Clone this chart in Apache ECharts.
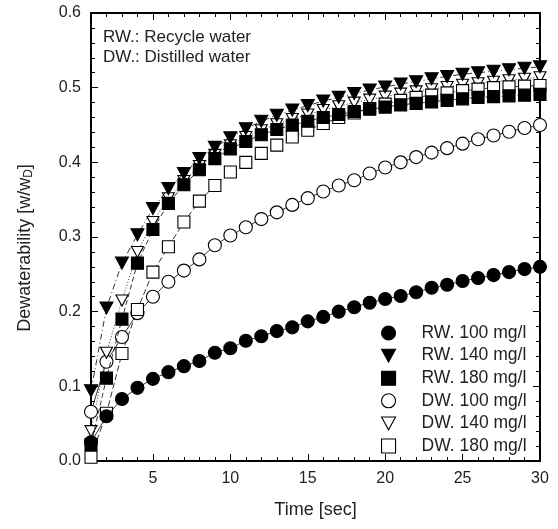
<!DOCTYPE html>
<html>
<head>
<meta charset="utf-8">
<script src="https://cdn.jsdelivr.net/npm/echarts@6/dist/echarts.min.js"></script>
<style>
html,body{margin:0;padding:0;background:#fff;}
#chart{width:558px;height:529px;}
</style>
</head>
<body>
<div id="chart"></div>
<script>
// ---- data ----
const time = [1,2,3,4,5,6,7,8,9,10,11,12,13,14,15,16,17,18,19,20,21,22,23,24,25,26,27,28,29,30];
const rw100 = [0.025,0.06,0.083,0.098,0.110,0.119,0.127,0.134,0.145,0.151,0.161,0.167,0.174,0.179,0.187,0.193,0.200,0.206,0.212,0.217,0.221,0.226,0.232,0.236,0.241,0.245,0.249,0.253,0.257,0.260];
const rw140 = [0.094,0.205,0.265,0.303,0.338,0.365,0.385,0.405,0.420,0.433,0.445,0.455,0.463,0.470,0.476,0.482,0.487,0.492,0.497,0.501,0.505,0.508,0.512,0.515,0.518,0.520,0.522,0.524,0.526,0.528];
const rw180 = [0.022,0.111,0.190,0.265,0.310,0.345,0.370,0.390,0.405,0.418,0.428,0.437,0.444,0.450,0.455,0.460,0.464,0.468,0.471,0.474,0.477,0.479,0.481,0.483,0.485,0.487,0.488,0.489,0.490,0.491];
const dw100 = [0.066,0.133,0.166,0.198,0.220,0.240,0.255,0.270,0.289,0.302,0.313,0.324,0.333,0.343,0.352,0.361,0.369,0.376,0.385,0.393,0.400,0.407,0.413,0.419,0.425,0.431,0.436,0.441,0.446,0.450];
const dw140 = [0.040,0.145,0.215,0.280,0.320,0.352,0.375,0.395,0.410,0.423,0.434,0.443,0.451,0.458,0.464,0.470,0.475,0.480,0.484,0.488,0.492,0.495,0.498,0.501,0.504,0.506,0.508,0.510,0.512,0.514];
const dw180 = [0.005,0.064,0.144,0.203,0.253,0.287,0.320,0.348,0.369,0.387,0.400,0.412,0.423,0.434,0.443,0.452,0.460,0.466,0.472,0.478,0.483,0.487,0.490,0.493,0.496,0.498,0.500,0.501,0.502,0.503];
const seriesNames = ['RW. 100 mg/l','RW. 140 mg/l','RW. 180 mg/l','DW. 100 mg/l','DW. 140 mg/l','DW. 180 mg/l'];
const xMajorTicks = [5,10,15,20,25,30];
const xMinorTicks = [1,2,3,4,5,6,7,8,9,10,11,12,13,14,15,16,17,18,19,20,21,22,23,24,25,26,27,28,29,30];
const yTickLabels = ['0.0','0.1','0.2','0.3','0.4','0.5','0.6'];
const notes = ['RW.: Recycle water','DW.: Distilled water'];

// ---- styles ----
const FONT = 'Liberation Sans, Arial, sans-serif';
const TXT = '#222';
const downTri = 'path://M0,0L12,0L6,11Z';
const seriesStyles = [
  {symbol:'circle', size:13, fill:'#000', dash:'solid'},
  {symbol:downTri, size:[13,12], fill:'#000', dash:[6,3,1,3]},
  {symbol:'rect', size:12, fill:'#000', dash:[5,3]},
  {symbol:'circle', size:13, fill:'#fff', dash:'solid'},
  {symbol:downTri, size:[12,11], fill:'#fff', dash:[1,2]},
  {symbol:'rect', size:12, fill:'#fff', dash:[6,3]}
];
const allData = [rw100, rw140, rw180, dw100, dw140, dw180];

const series = allData.map((vals, i) => {
  const st = seriesStyles[i];
  return {
    name: seriesNames[i],
    type: 'line',
    xAxisIndex: 0, yAxisIndex: 0,
    data: time.map((t, k) => [t, vals[k]]),
    symbol: st.symbol,
    symbolSize: st.size,
    showSymbol: true,
    showAllSymbol: true,
    itemStyle: {color: st.fill, borderColor: '#000', borderWidth: 1.1},
    lineStyle: {color: '#000', width: 0.8, type: st.dash},
    emphasis: {disabled: true},
    animation: false,
    z: 3 + (i < 3 ? 1 : 0)
  };
});

const legendData = seriesNames.map((n, i) => ({
  name: n,
  icon: seriesStyles[i].symbol,
  itemStyle: {color: seriesStyles[i].fill, borderColor: '#000', borderWidth: 1.1}
}));

const axisLineStyle = {color: '#000', width: 2};
const chart = echarts.init(document.getElementById('chart'), null, {renderer: 'canvas'});
chart.setOption({
  backgroundColor: '#fff',
  animation: false,
  grid: {left: 91, right: 18, top: 13, bottom: 68, containLabel: false},
  xAxis: [
    {type: 'value', min: 1, max: 30, position: 'bottom',
     axisLine: {show: true, onZero: false, lineStyle: axisLineStyle},
     axisTick: {show: true, inside: true, length: 7, customValues: xMajorTicks, lineStyle: {color: '#000', width: 1}},
     axisLabel: {show: true, customValues: xMajorTicks, fontSize: 16, color: TXT, fontFamily: FONT, margin: 10},
     splitLine: {show: false},
     name: 'Time [sec]', nameLocation: 'middle', nameGap: 40,
     nameTextStyle: {fontSize: 18, color: TXT, fontFamily: FONT}},
    {type: 'value', min: 1, max: 30, position: 'bottom',
     axisLine: {show: false, onZero: false},
     axisTick: {show: true, inside: true, length: 4, customValues: xMinorTicks, lineStyle: {color: '#000', width: 1}},
     axisLabel: {show: false}, splitLine: {show: false}},
    {type: 'value', min: 1, max: 30, position: 'top',
     axisLine: {show: true, onZero: false, lineStyle: axisLineStyle},
     axisTick: {show: true, inside: true, length: 7, customValues: xMajorTicks, lineStyle: {color: '#000', width: 1}},
     axisLabel: {show: false}, splitLine: {show: false}},
    {type: 'value', min: 1, max: 30, position: 'top',
     axisLine: {show: false, onZero: false},
     axisTick: {show: true, inside: true, length: 4, customValues: xMinorTicks, lineStyle: {color: '#000', width: 1}},
     axisLabel: {show: false}, splitLine: {show: false}}
  ],
  yAxis: [
    {type: 'value', min: 0, max: 0.6, interval: 0.1, position: 'left',
     axisLine: {show: true, onZero: false, lineStyle: axisLineStyle},
     axisTick: {show: true, inside: true, length: 7, lineStyle: {color: '#000', width: 1}},
     minorTick: {show: true, splitNumber: 5, length: 4, lineStyle: {color: '#000', width: 1}},
     axisLabel: {show: true, fontSize: 16, color: TXT, fontFamily: FONT, margin: 10,
       formatter: (v) => yTickLabels[Math.round(v * 10)]},
     splitLine: {show: false},
     name: 'Dewaterability [w/w{sub|D}]', nameLocation: 'middle', nameGap: 56,
     nameTextStyle: {fontSize: 18, color: TXT, fontFamily: FONT, padding: [0, 22, 0, 0],
       rich: {sub: {fontSize: 12, color: TXT, fontFamily: FONT, padding: [8, 0, 0, 0]}}}},
    {type: 'value', min: 0, max: 0.6, interval: 0.1, position: 'right',
     axisLine: {show: true, onZero: false, lineStyle: axisLineStyle},
     axisTick: {show: true, inside: true, length: 7, lineStyle: {color: '#000', width: 1}},
     minorTick: {show: true, splitNumber: 5, length: 4, lineStyle: {color: '#000', width: 1}},
     axisLabel: {show: false}, splitLine: {show: false}}
  ],
  legend: {
    orient: 'vertical', left: 376, top: 319,
    itemWidth: 14, itemHeight: 14, itemGap: 4.6,
    data: legendData,
    textStyle: {fontSize: 17.5, color: TXT, fontFamily: FONT, padding: [0, 0, 0, 21], lineHeight: 17},
    selectedMode: false
  },
  graphic: [
    {type: 'text', left: 103, top: 29, style: {text: notes[0], fontSize: 17, fill: TXT, fontFamily: FONT}},
    {type: 'text', left: 103, top: 49, style: {text: notes[1], fontSize: 17, fill: TXT, fontFamily: FONT}}
  ],
  series: series
});
</script>
</body>
</html>
